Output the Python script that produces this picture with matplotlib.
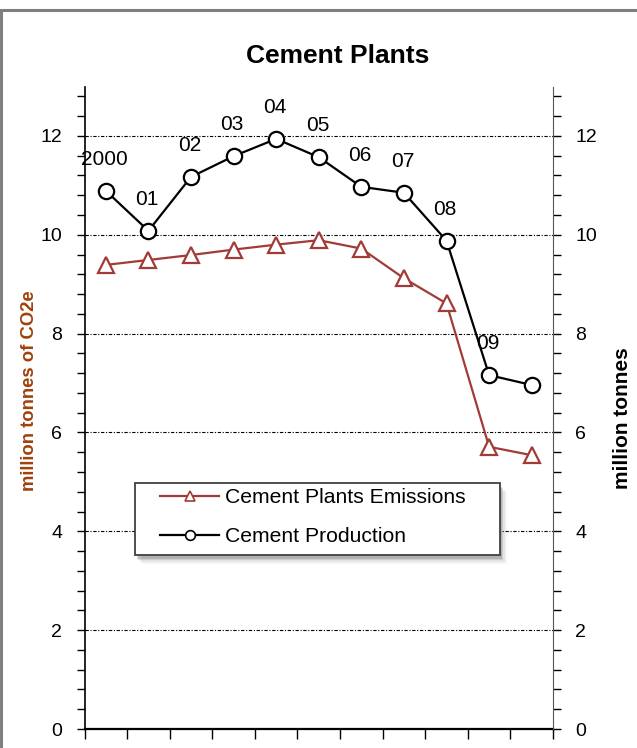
import matplotlib
matplotlib.use("Agg")
import matplotlib.pyplot as plt
from matplotlib.lines import Line2D
from matplotlib.patches import Rectangle
from matplotlib.ticker import MultipleLocator

plt.rcParams['font.family'] = ['Liberation Sans', 'DejaVu Sans']

years = ["2000", "01", "02", "03", "04", "05", "06", "07", "08", "09", "10"]
year_labels = ["2000", "01", "02", "03", "04", "05", "06", "07", "08", "09", ""]
emissions = [9.39, 9.49, 9.59, 9.70, 9.80, 9.89, 9.72, 9.12, 8.61, 5.71, 5.54]
production = [10.89, 10.08, 11.17, 11.59, 11.94, 11.57, 10.97, 10.85, 9.88, 7.16, 6.96]

EMIS_COLOR = "#A23B38"
LABEL_COLOR = "#A0410D"

W, H = 637, 748
fig = plt.figure(figsize=(W / 100, H / 100), dpi=100)


def fx(px):
    return px / W


def fy(py):
    return 1 - py / H


# outer frame (cropped)
fig.add_artist(Rectangle((1.5 / W, -0.1), 1.2, 1.1 - 10 / H, transform=fig.transFigure,
                         fill=False, edgecolor="#7f7f7f", linewidth=2.2))

left, right, top, bottom = 84.5, 553, 86.5, 729
ax = fig.add_axes([fx(left), fy(bottom), (right - left) / W, (bottom - top) / H])
ax2 = ax.twinx()

x = list(range(len(years)))
for a in (ax, ax2):
    a.set_ylim(0, 13)
    a.set_xlim(-0.5, len(years) - 0.5)
    a.yaxis.set_major_locator(MultipleLocator(2))
    a.yaxis.set_minor_locator(MultipleLocator(0.4))
    a.tick_params(axis='y', which='both', direction='out', length=6, width=1, labelsize=14, pad=10)
    a.spines['top'].set_visible(False)
    a.set_facecolor('none')
ax.spines['right'].set_visible(False)
ax2.spines['left'].set_visible(False)
ax2.spines['bottom'].set_visible(False)
ax2.spines['right'].set_color("#555555")
ax.spines['left'].set_linewidth(1.2)
ax.spines['bottom'].set_linewidth(1.6)

ax.set_xticks([i - 0.5 for i in range(len(years) + 1)])
ax.set_xticklabels([])
ax.tick_params(axis='x', direction='out', length=7, width=1)
ax2.set_yticks(range(0, 13, 2))

for yv in range(2, 13, 2):
    ax.axhline(yv, color='black', linewidth=0.8, linestyle=(0, (3, 1.5, 1, 1.5)), zorder=0)

ax.plot(x, emissions, color=EMIS_COLOR, linewidth=1.6, marker='^', markersize=12,
        markerfacecolor='white', markeredgecolor=EMIS_COLOR, markeredgewidth=1.6, zorder=3)
ax2.plot(x, production, color='black', linewidth=1.6, marker='o', markersize=11,
         markerfacecolor='white', markeredgecolor='black', markeredgewidth=1.6, zorder=3)

for xi, yv, lab in zip(x, production, year_labels):
    if lab:
        ax2.annotate(lab, (xi, yv), xytext=(-1, 22.5), textcoords='offset points',
                     ha='center', va='center', fontsize=15, zorder=2)

fig.text(fx(338), fy(56), "Cement Plants", ha='center', va='center',
         fontsize=19, fontweight='bold')
fig.text(fx(30), fy(391), "million tonnes of CO2e", rotation=90, ha='center', va='center',
         fontsize=13.3, fontweight='bold', color=LABEL_COLOR)
fig.text(fx(623), fy(418), "million tonnes", rotation=90, ha='center', va='center',
         fontsize=15, fontweight='bold', color='black')

# legend frame with soft shadow
lx0, lx1, ly0, ly1 = 135, 500, 483, 555
for off, al in [(9, 0.06), (7, 0.10), (5, 0.16), (4, 0.22)]:
    fig.add_artist(Rectangle((fx(lx0 + off - 2), fy(ly1 + off)), (lx1 - lx0) / W, (ly1 - ly0) / H,
                             transform=fig.transFigure, facecolor='#555555', edgecolor='none',
                             alpha=al, zorder=4))
fig.add_artist(Rectangle((fx(lx0), fy(ly1)), (lx1 - lx0) / W, (ly1 - ly0) / H,
                         transform=fig.transFigure, facecolor='white', edgecolor='#404040',
                         linewidth=1.3, zorder=4.5))

handles = [
    Line2D([], [], color=EMIS_COLOR, linewidth=1.6, marker='^', markersize=7,
           markerfacecolor='white', markeredgecolor=EMIS_COLOR, markeredgewidth=1.2),
    Line2D([], [], color='black', linewidth=1.6, marker='o', markersize=7,
           markerfacecolor='white', markeredgecolor='black', markeredgewidth=1.2),
]
leg = fig.legend(handles, ["Cement Plants Emissions", "Cement Production"],
                 loc='upper left', bbox_to_anchor=(fx(160), fy(488)),
                 frameon=False, fontsize=15.2,
                 handlelength=2.8, handletextpad=0.3, borderpad=0, labelspacing=0.95,
                 borderaxespad=0)
leg.set_zorder(5)

fig.savefig("out.png", dpi=100)
